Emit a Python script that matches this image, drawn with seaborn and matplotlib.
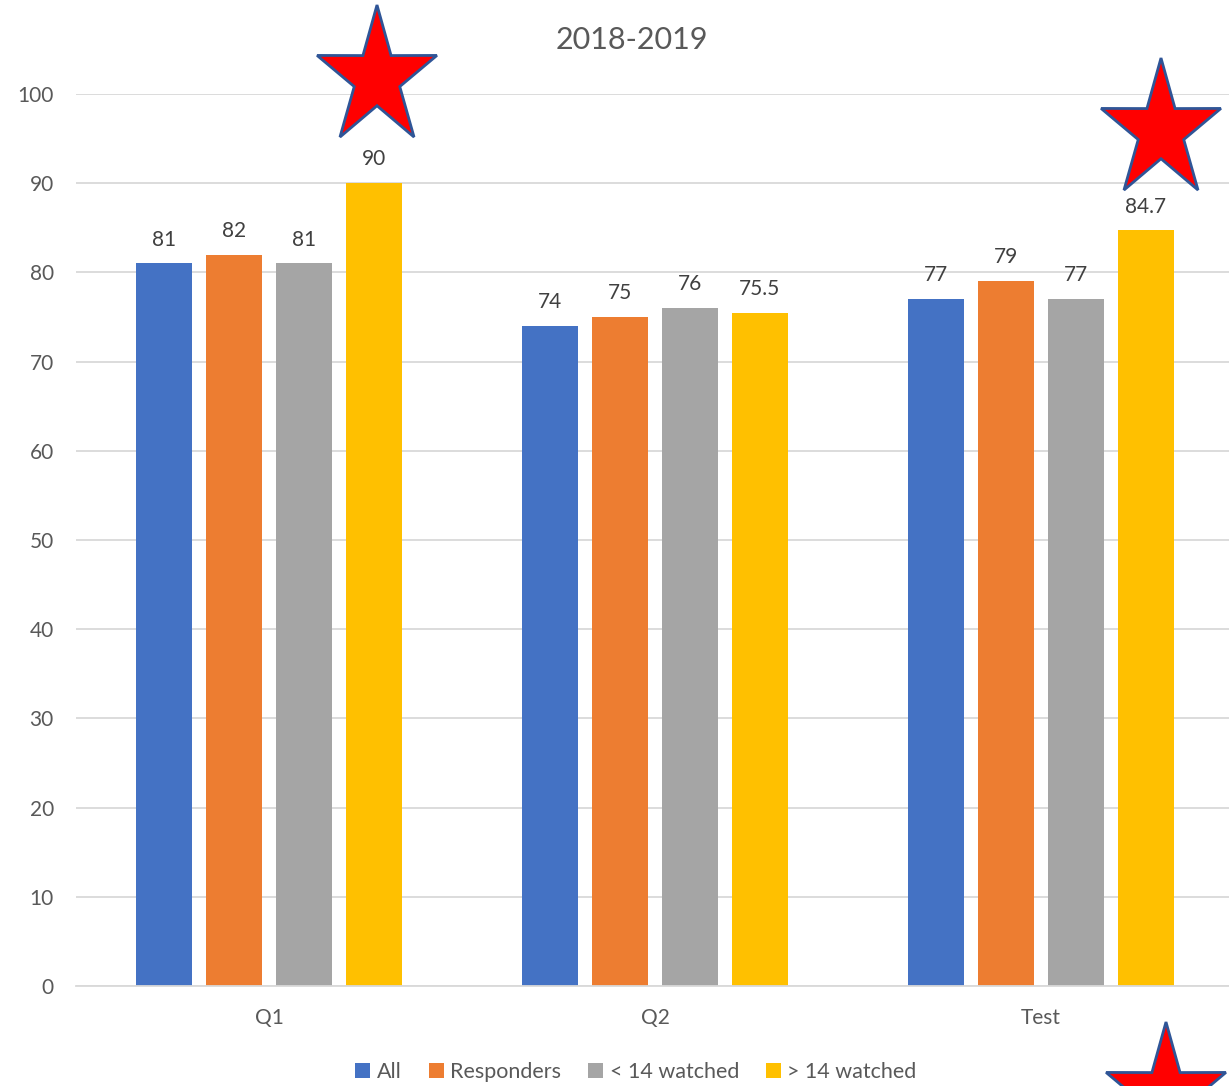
import matplotlib
matplotlib.use("Agg")

import matplotlib.pyplot as plt
import numpy as np
import pandas as pd
import seaborn as sns
from matplotlib.patches import Polygon

sns.set_theme(style="whitegrid")
plt.rcParams["font.family"] = ["Lato", "DejaVu Sans"]

# ── Data ─────────────────────────────────────────────────────────────────────
CATEGORIES = ["Q1", "Q2", "Test"]
SERIES     = ["All", "Responders", "< 14 watched", "> 14 watched"]
ALL        = [81, 74, 77]
RESPONDERS = [82, 75, 79]
LT14       = [81, 76, 77]
GT14       = [90, 75.5, 84.7]
COLORS     = ["#4472C4", "#ED7D31", "#A5A5A5", "#FFC000"]

df = pd.DataFrame({"Category": CATEGORIES * 4,
                   "Series": np.repeat(SERIES, 3),
                   "Score": ALL + RESPONDERS + LT14 + GT14})

W, H = 1229, 1086
TXT = "#595959"

fig = plt.figure(figsize=(W / 100, H / 100), dpi=100)
ax = fig.add_axes([76 / W, 1 - 986 / H, 1 - 76 / W, (986 - 94) / H])

sns.barplot(data=df, x="Category", y="Score", hue="Series", hue_order=SERIES,
            palette=COLORS, width=0.725, gap=0.21, saturation=1,
            order=CATEGORIES, linewidth=0, ax=ax)

for cont in ax.containers:
    ax.bar_label(cont, fmt="%g", padding=10, fontsize=15, color="#404040")

ax.set_ylim(0, 100)
ax.set_xlim(-0.5, (W - 269) / 386)
ax.set_yticks(range(0, 101, 10))
ax.set_xlabel("")
ax.set_ylabel("")
ax.yaxis.grid(True, color="#D9D9D9", lw=1.3)
ax.xaxis.grid(False)
for s in ["left", "right", "top"]:
    ax.spines[s].set_visible(False)
ax.spines["bottom"].set_color("#D9D9D9")
ax.spines["bottom"].set_linewidth(1.3)
ax.tick_params(axis="y", length=0, pad=16, labelsize=15, labelcolor=TXT)
ax.tick_params(axis="x", length=0, pad=16, labelsize=15, labelcolor=TXT)

handles, labels = ax.get_legend_handles_labels()
ax.get_legend().remove()
fig.legend(handles, labels, ncol=4, loc="center",
           bbox_to_anchor=(636 / W, 1 - 1072 / H), frameon=False,
           fontsize=15.5, labelcolor=TXT, handlelength=0.7, handleheight=0.7,
           handletextpad=0.3, columnspacing=1.25)

fig.text(632 / W, 1 - 40 / H, "2018-2019", ha="center", va="center",
         fontsize=22, color=TXT)

# ── Stars (decoration, pixel positions: centre x, top y) ────────────────────
def star(cx, top, rx=63, ry=73, inner=0.38):
    cy = top + ry
    pts = []
    for i in range(10):
        ang = np.pi / 2 + i * np.pi / 5
        r = 1 if i % 2 == 0 else inner
        px = cx + r * rx * np.cos(ang)
        py = cy - r * ry * np.sin(ang)
        pts.append((px / W, 1 - py / H))
    return Polygon(pts, closed=True, transform=fig.transFigure,
                   facecolor="#FF0000", edgecolor="#2F5597", lw=2, zorder=10)

for cx, top in [(377, 5), (1161, 58), (1166, 1022)]:
    fig.add_artist(star(cx, top))

fig.savefig("out.png", dpi=100)
